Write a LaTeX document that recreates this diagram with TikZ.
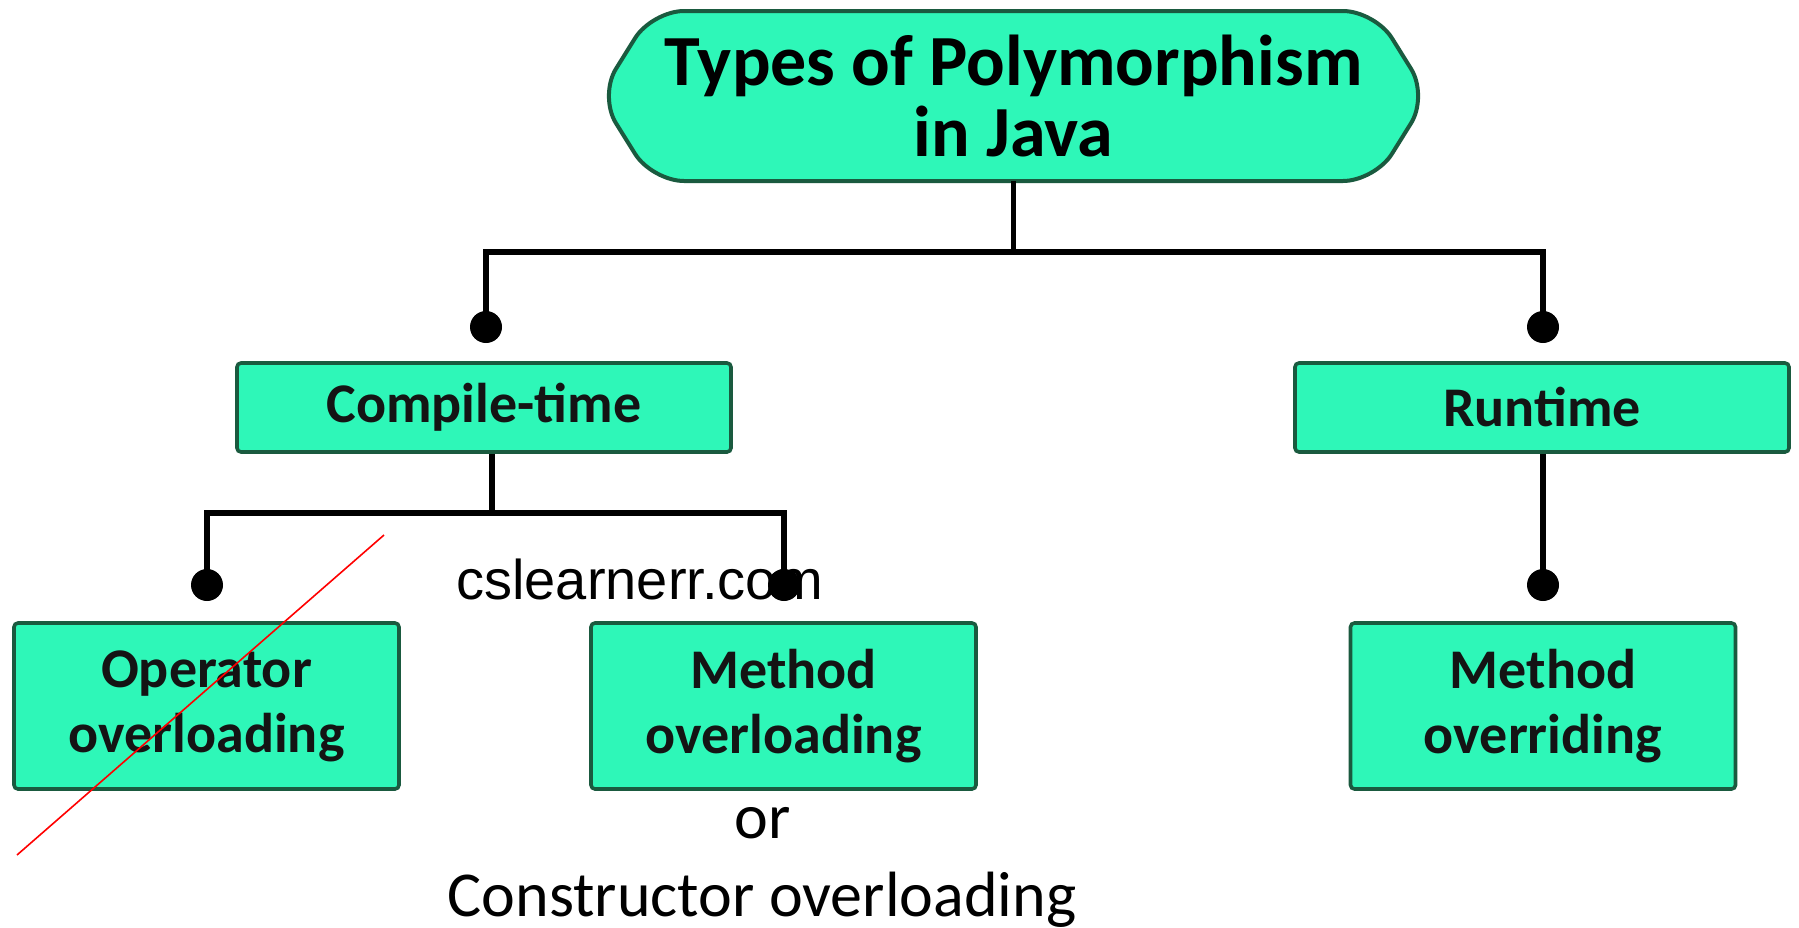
\documentclass[tikz,border=0pt]{standalone}
\usepackage{fontspec}
\setmainfont{Carlito}
\newfontfamily\arialf{Liberation Sans}
\definecolor{boxfill}{HTML}{2EF7B8}
\definecolor{boxdraw}{HTML}{1A5A3F}
\begin{document}
\begin{tikzpicture}[x=0.5pt,y=-0.5pt,
 box/.style={draw=boxdraw, fill=boxfill, line width=1.8pt, rounded corners=2pt, inner sep=0pt, align=center, font=\fontsize{28}{32.5}\selectfont\bfseries, text=black!92},
 widebox/.style={box, minimum width=247pt, minimum height=44.5pt},
 leafbox/.style={box, minimum width=192.5pt, minimum height=83pt},
 conn/.style={line width=2.8pt, black},
 dotn/.style={circle, fill=black, inner sep=0pt, minimum size=16pt}]
\useasboundingbox (0,0) rectangle (1799,927);
\fill[white] (0,0) rectangle (1799,927);
% title shape
\draw[draw=boxdraw, fill=boxfill, line width=2pt, rounded corners=16pt]
  (599,96) -- (652,11) -- (1375,11) -- (1428,96) -- (1375,181) -- (652,181) -- cycle;
\node[inner sep=0pt, minimum width=414pt, minimum height=85pt, align=center,
  font=\fontsize{36}{35.5}\selectfont\bfseries] (top) at (1013.5,96) {Types of Polymorphism\\in Java};
% level 1
\node[widebox] (ct) at (484,407.5) {Compile-time};
\node[widebox] (rt) at (1542,407.5) {Runtime};
% level 2
\node[leafbox] (op) at (206.5,706) {Operator\\overloading};
\node[leafbox] (mo) at (783.5,706) {Method\\overloading};
\node[leafbox] (mr) at (1543,706) {Method\\overriding};
% dots
\node[dotn] (d1) at (486,327) {};
\node[dotn] (d2) at (1543,327) {};
\node[dotn] (d3) at (207,585) {};
\node[dotn] (d4) at (784,585) {};
\node[dotn] (d5) at (1543,585) {};
% connectors
\draw[conn] (top.south) -- (top.south |- 0,252) -| (d1.center);
\draw[conn] (top.south |- 0,252) -| (d2.center);
\draw[conn] ([xshift=4pt]ct.south) -- ([xshift=4pt]ct.south |- 0,513) -| (d3.center);
\draw[conn] ([xshift=4pt]ct.south |- 0,513) -| (d4.center);
\draw[conn] (rt.south -| d5) -- (d5.center);
% texts
\node[anchor=base, inner sep=0pt, font=\arialf\fontsize{28}{32}\selectfont] (wm) at (640,599) {cslearnerr.com};
\node[anchor=base, inner sep=0pt, font=\fontsize{32}{36}\selectfont] (or) at (763,838) {or};
\node[anchor=base, inner sep=0pt, font=\fontsize{32}{36}\selectfont] (co) at (762,916) {Constructor overloading};
% red stroke
\draw[red, line width=0.8pt] (384,535) -- (17,855);
\end{tikzpicture}
\end{document}
